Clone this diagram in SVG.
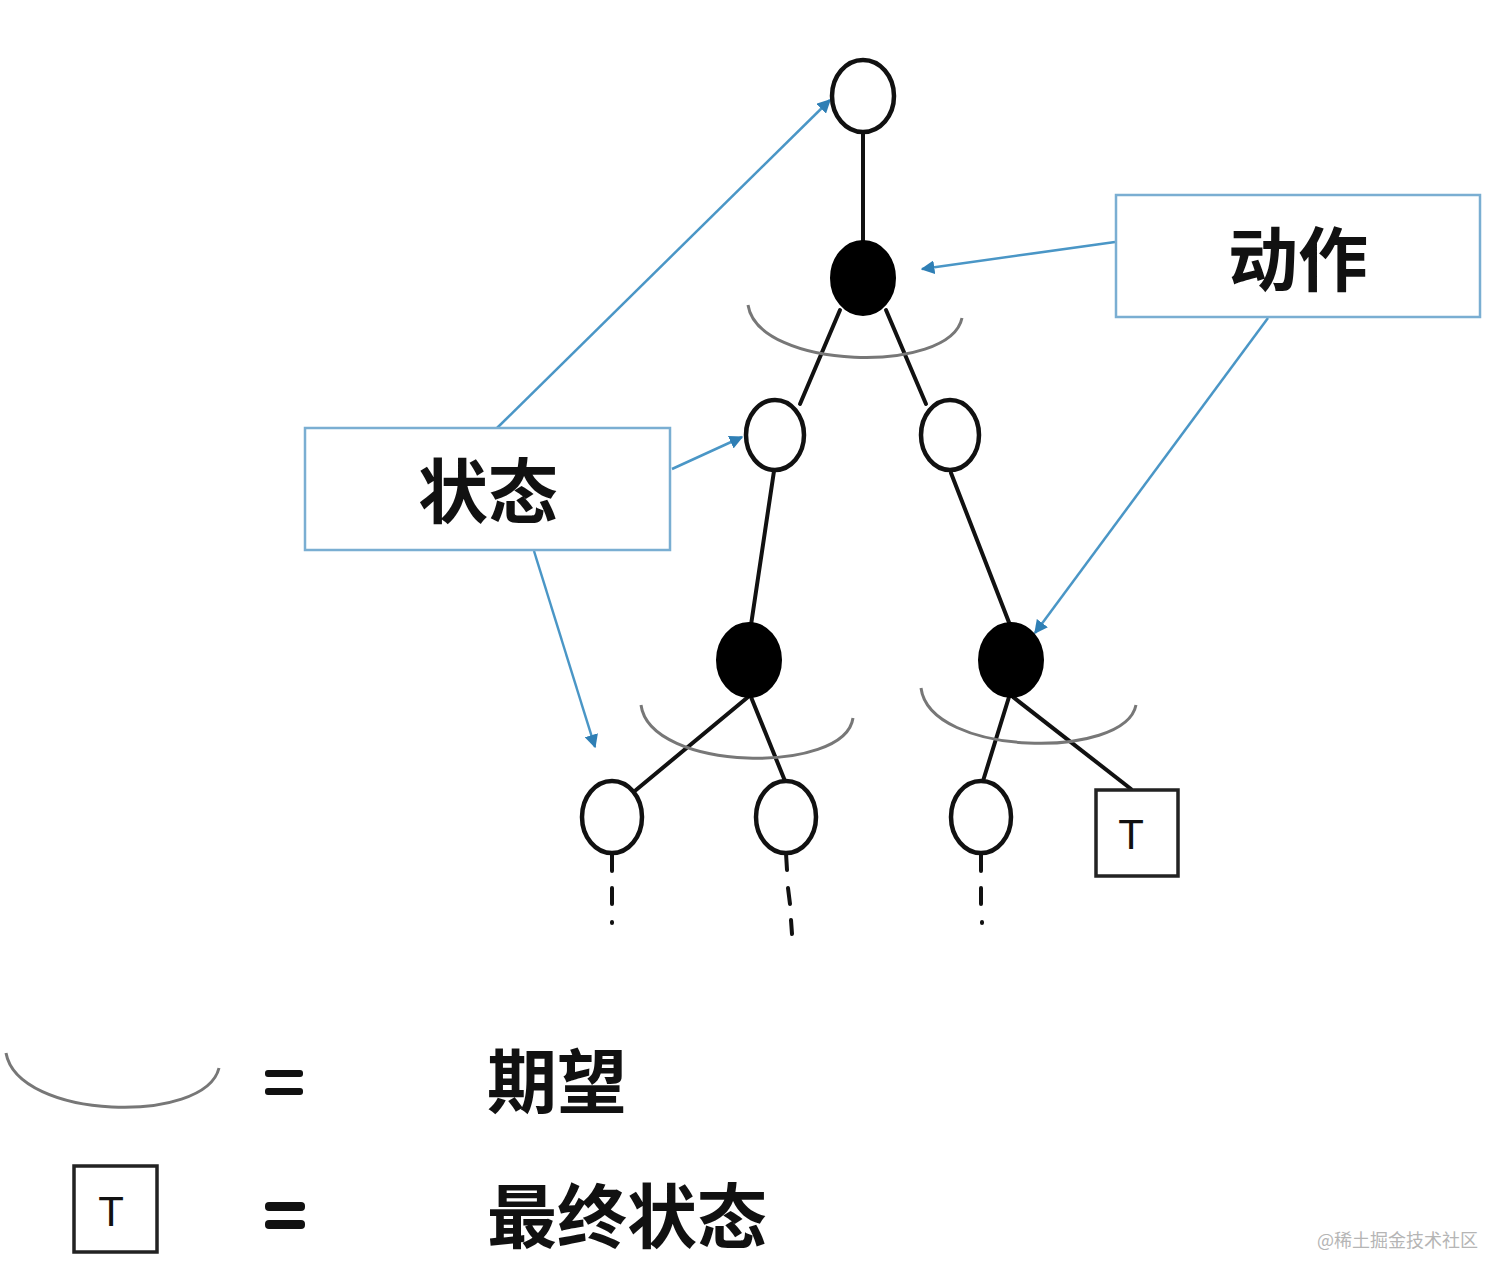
<svg xmlns="http://www.w3.org/2000/svg" width="1512" height="1283" viewBox="0 0 1512 1283">
<defs>
<marker id="ah" viewBox="0 0 10 10" refX="9" refY="5" markerWidth="5.5" markerHeight="5.5" orient="auto" markerUnits="strokeWidth">
<path d="M0,0 L10,5 L0,10 z" fill="#2f7fb5"/>
</marker>
</defs>
<style>
.st{fill:#fff;stroke:#111;stroke-width:4.5}
.ac{fill:#000;stroke:#000;stroke-width:4}
.ed{stroke:#111;stroke-width:4;fill:none;stroke-linecap:round}
.ex{fill:none;stroke:#777;stroke-width:3}
.lb{fill:#fff;stroke:#7aaed2;stroke-width:2.5}
.ar{stroke:#4a96c6;stroke-width:2.5;fill:none;marker-end:url(#ah)}
.cj{font-family:"Noto Sans CJK SC","Noto Sans",sans-serif;font-weight:700;fill:#111}
.tt{font-family:"Liberation Sans",Arial,sans-serif;fill:#111}
.dash{stroke:#111;stroke-width:4;fill:none;stroke-linecap:round}
</style>
<rect width="1512" height="1283" fill="#fff"/>

<g id="connectors">
<line class="ed" x1="863" y1="132" x2="863" y2="242"/>
<line class="ed" x1="840" y1="310" x2="800" y2="404"/>
<line class="ed" x1="886" y1="310" x2="926" y2="404"/>
<line class="ed" x1="774" y1="471" x2="751" y2="625"/>
<line class="ed" x1="951" y1="473" x2="1010" y2="625"/>
<line class="ed" x1="748" y1="697" x2="636" y2="790"/>
<line class="ed" x1="751" y1="697" x2="785" y2="781"/>
<line class="ed" x1="1009" y1="697" x2="983" y2="781"/>
<line class="ed" x1="1013" y1="697" x2="1131" y2="789"/>
<path class="dash" d="M612,853 V871 M612,888 V904 M612,922 V923"/>
<path class="dash" d="M786,853 L787,870 M788,888 L790,904 M791,920 L792,934"/>
<path class="dash" d="M981,853 V871 M981,888 V904 M982,922 V923"/>
<path class="ex" d="M748,305 C758,370 950,375 962,318"/>
<path class="ex" d="M641,705 C650,772 845,775 853,718"/>
<path class="ex" d="M921,688 C930,757 1125,760 1136,705"/>
<line class="ar" x1="497" y1="428" x2="830" y2="100"/>
<line class="ar" x1="672" y1="469" x2="742" y2="437"/>
<line class="ar" x1="534" y1="551" x2="595" y2="747"/>
<line class="ar" x1="1115" y1="242" x2="922" y2="269"/>
<line class="ar" x1="1268" y1="318" x2="1035" y2="633"/>
</g>

<g id="root"><ellipse class="st" cx="863" cy="96" rx="31" ry="36"/></g>
<g id="action1"><ellipse class="ac" cx="863" cy="278" rx="31" ry="36"/></g>
<g id="state-l"><ellipse class="st" cx="775" cy="435" rx="29" ry="35"/></g>
<g id="state-r"><ellipse class="st" cx="950" cy="435" rx="29" ry="35"/></g>
<g id="action-l"><ellipse class="ac" cx="749" cy="660" rx="31" ry="36"/></g>
<g id="action-r"><ellipse class="ac" cx="1011" cy="660" rx="31" ry="36"/></g>
<g id="leaf1"><ellipse class="st" cx="612" cy="817" rx="30" ry="36"/></g>
<g id="leaf2"><ellipse class="st" cx="786" cy="817" rx="30" ry="36"/></g>
<g id="leaf3"><ellipse class="st" cx="981" cy="817" rx="30" ry="36"/></g>
<g id="terminal">
<rect x="1096" y="790" width="82" height="86" fill="#fff" stroke="#222" stroke-width="3.5"/>
<text class="tt" x="1131" y="849" font-size="42" text-anchor="middle">T</text>
</g>

<g id="label-action">
<rect class="lb" x="1116" y="195" width="364" height="122"/>
<text class="cj" x="1298" y="286" font-size="70" text-anchor="middle">动作</text>
</g>
<g id="label-state">
<rect class="lb" x="305" y="428" width="365" height="122"/>
<text class="cj" x="488" y="518" font-size="70" text-anchor="middle">状态</text>
</g>

<g id="legend">
<path class="ex" d="M6,1053 C18,1120 205,1125 219,1068"/>
<rect x="265" y="1070" width="38" height="7" rx="3" fill="#111"/>
<rect x="265" y="1088" width="38" height="7" rx="3" fill="#111"/>
<text class="cj" x="487" y="1108" font-size="70">期望</text>
<rect x="74" y="1166" width="83" height="86" fill="#fff" stroke="#222" stroke-width="3.5"/>
<text class="tt" x="111" y="1226" font-size="42" text-anchor="middle">T</text>
<rect x="265" y="1202" width="40" height="9" rx="4" fill="#111"/>
<rect x="265" y="1220" width="40" height="9" rx="4" fill="#111"/>
<text class="cj" x="487" y="1243" font-size="70">最终状态</text>
</g>
<text x="1478" y="1247" font-size="18" text-anchor="end" fill="#b5b5b5" font-family="'Noto Sans CJK SC',sans-serif">@稀土掘金技术社区</text>
</svg>
